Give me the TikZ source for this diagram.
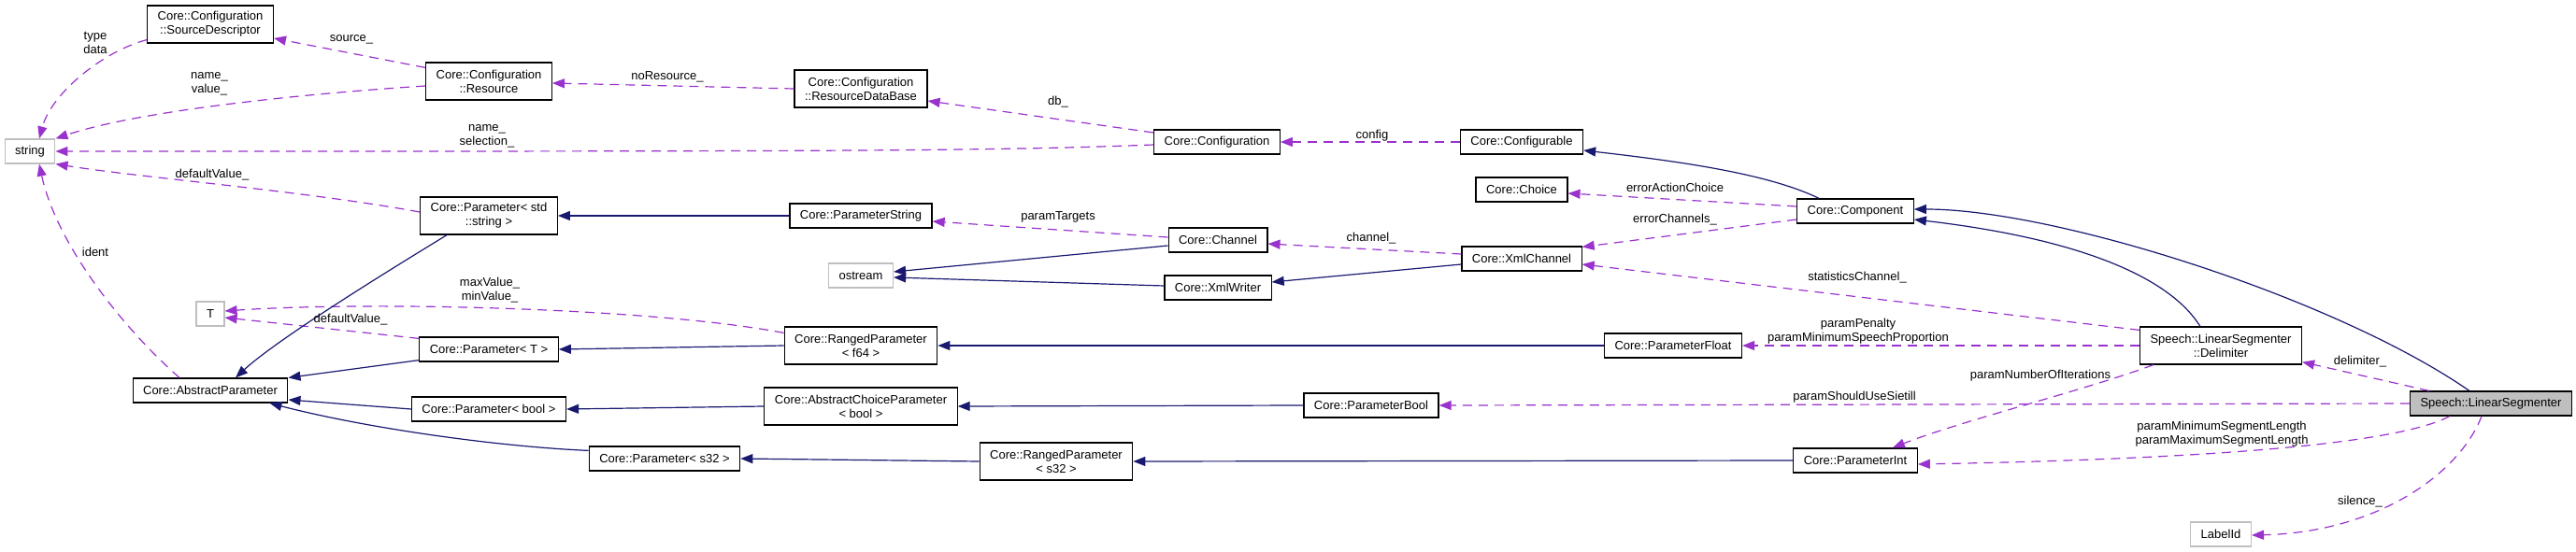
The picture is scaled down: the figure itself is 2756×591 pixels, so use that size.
\documentclass[tikz,border=0pt]{standalone}
\usepackage{fontspec}
\setmainfont{Liberation Sans}
\usetikzlibrary{calc, positioning}
\usetikzlibrary{arrows.meta}

\begin{document}
\begin{tikzpicture}[x=1pt,y=-1pt,
  font=\fontsize{13}{15}\selectfont,
  cls/.style={draw=black,line width=1.2pt,fill=white,inner xsep=11pt,inner ysep=3pt,minimum height=26pt,align=center},
  cls2/.style={cls,minimum height=40pt},
  ext/.style={cls,draw=extgray},
  inherit/.style={draw=inheritblue,line width=1.2pt,-{Triangle[length=13pt,width=10pt]}},
  uses/.style={draw=usepurple,line width=1.2pt,dash pattern=on 10pt off 7pt,-{Triangle[length=13pt,width=10pt]}},
  lbl/.style={align=center,inner sep=0pt}]
\definecolor{inheritblue}{HTML}{191970}
\definecolor{usepurple}{HTML}{9A32CD}
\definecolor{extgray}{HTML}{BFBFBF}
\useasboundingbox (0,0) rectangle (2756,591);

% classes
\node[ext] (string) at (32,162) {string};
\node[cls2] (srcdesc) at (225,26) {Core::Configuration\\::SourceDescriptor};
\node[cls2] (resource) at (523,87) {Core::Configuration\\::Resource};
\node[cls2] (pstring) at (523,231) {Core::Parameter< std\\::string >};
\node[ext] (tparam) at (225,336) {T};
\node[cls] (ptmpl) at (523,374) {Core::Parameter< T >};
\node[cls] (abspar) at (225,418) {Core::AbstractParameter};
\node[cls] (pbool) at (523,438) {Core::Parameter< bool >};
\node[cls] (ps32) at (711,491) {Core::Parameter< s32 >};
\node[cls2] (rdb) at (921,95) {Core::Configuration\\::ResourceDataBase};
\node[cls] (parstr) at (921,231) {Core::ParameterString};
\node[ext] (ostream) at (921,295) {ostream};
\node[cls2] (rpf64) at (921,370) {Core::RangedParameter\\< f64 >};
\node[cls2] (acpbool) at (921,435) {Core::AbstractChoiceParameter\\< bool >};
\node[cls2] (rps32) at (1130,494) {Core::RangedParameter\\< s32 >};
\node[cls] (config) at (1302,152) {Core::Configuration};
\node[cls] (channel) at (1303,257) {Core::Channel};
\node[cls] (xmlwriter) at (1303,308) {Core::XmlWriter};
\node[cls] (parbool) at (1467,434) {Core::ParameterBool};
\node[cls] (configurable) at (1628,152) {Core::Configurable};
\node[cls] (choice) at (1628,203) {Core::Choice};
\node[cls] (xmlchannel) at (1628,277) {Core::XmlChannel};
\node[cls] (parfloat) at (1790,370) {Core::ParameterFloat};
\node[cls] (component) at (1985,226) {Core::Component};
\node[cls] (parint) at (1985,493) {Core::ParameterInt};
\node[cls2] (delim) at (2376,370) {Speech::LinearSegmenter\\::Delimiter};
\node[ext] (labelid) at (2376,572) {LabelId};
\node[cls,fill=extgray] (linseg) at (2665,432) {Speech::LinearSegmenter};

% members
\draw[uses] ($(srcdesc.south west)+(0,-4)$) .. controls (110,55) and (55,100) .. ($(string.north)+(10,0)$);
\draw[uses] ($(resource.north west)+(0,6)$) -- ($(srcdesc.east)+(0,15)$);
\draw[uses] ($(resource.west)+(0,5)$) .. controls (330,100) and (150,118) .. (string.north east);
\draw[uses] (rdb.west) -- ($(resource.east)+(0,2)$);
\draw[uses] ($(config.west)+(0,-10)$) -- ($(rdb.east)+(0,13)$);
\draw[uses] ($(config.west)+(0,3)$) .. controls (1050,162) and (900,162) .. (string.east);
\draw[uses] (configurable.west) -- (config.east);
\draw[uses] ($(component.west)+(0,-5)$) -- ($(choice.east)+(0,4)$);
\draw[uses] ($(component.west)+(0,9)$) -- ($(xmlchannel.north east)+(0,1)$);
\draw[uses] ($(xmlchannel.west)+(0,-5)$) -- ($(channel.east)+(0,4)$);
\draw[uses] ($(channel.west)+(0,-3)$) -- ($(parstr.east)+(0,6)$);
\draw[uses] ($(delim.north west)+(0,4)$) -- ($(xmlchannel.east)+(0,6)$);
\draw[uses] (delim.west) -- (parfloat.east);
\draw[uses] ($(linseg.north west)+(21,0)$) -- ($(delim.south east)+(0,-3)$);
\draw[uses] (linseg.west) -- (parbool.east);
\draw[uses] ($(delim.south west)+(15,0)$) .. controls (2230,418) and (2100,450) .. ($(parint.north east)+(-27,0)$);
\draw[uses] ($(linseg.south west)+(43,0)$) .. controls (2560,478) and (2330,492) .. ($(parint.east)+(0,4)$);
\draw[uses] ($(linseg.south)+(-10,0)$) .. controls (2630,510) and (2540,570) .. ($(labelid.east)+(0,1)$);
\draw[uses] ($(pstring.west)+(0,-4)$) .. controls (330,205) and (150,190) .. (string.south east);
\draw[uses] ($(abspar.north)+(-33,0)$) .. controls (130,350) and (60,260) .. ($(string.south)+(10,0)$);
\draw[uses] ($(ptmpl.north west)+(0,2)$) -- ($(tparam.east)+(0,4)$);
\draw[uses] ($(rpf64.north west)+(0,7)$) .. controls (700,330) and (400,322) .. ($(tparam.east)+(0,-3)$);

% base classes
\draw[inherit] ($(pstring.south west)+(29,0)$) .. controls (440,275) and (300,360) .. ($(abspar.north)+(27,0)$);
\draw[inherit] ($(ptmpl.south west)+(0,-2)$) -- (abspar.north east);
\draw[inherit] (pbool.west) -- ($(abspar.east)+(0,10)$);
\draw[inherit] ($(ps32.north west)+(0,5)$) .. controls (530,478) and (390,458) .. ($(abspar.south east)+(-20,0)$);
\draw[inherit] (parstr.west) -- (pstring.east);
\draw[inherit] ($(channel.west)+(0,6)$) -- ($(ostream.east)+(0,-4)$);
\draw[inherit] ($(xmlwriter.west)+(0,-2)$) -- ($(ostream.east)+(0,2)$);
\draw[inherit] ($(xmlchannel.west)+(0,6)$) -- ($(xmlwriter.east)+(0,-6)$);
\draw[inherit] (rpf64.west) -- (ptmpl.east);
\draw[inherit] (parfloat.west) -- (rpf64.east);
\draw[inherit] (acpbool.west) -- (pbool.east);
\draw[inherit] (parbool.west) -- (acpbool.east);
\draw[inherit] (rps32.west) -- (ps32.east);
\draw[inherit] (parint.west) -- (rps32.east);
\draw[inherit] ($(component.north west)+(24,0)$) .. controls (1890,185) and (1790,172) .. ($(configurable.east)+(0,9)$);
\draw[inherit] ($(delim.north west)+(65,0)$) .. controls (2320,295) and (2220,255) .. ($(component.east)+(0,9)$);
\draw[inherit] ($(linseg.north west)+(64,0)$) .. controls (2500,320) and (2200,224) .. ($(component.east)+(0,-2)$);

% member names
\node[lbl] (l-typedata) at (102,46) {type\\data};
\node[lbl] (l-source) at (376,42) {source\_};
\node[lbl] (l-namevalue) at (224,90) {name\_\\value\_};
\node[lbl] (l-nores) at (714,82) {noResource\_};
\node[lbl] (l-db) at (1132,109) {db\_};
\node[lbl] (l-namesel) at (521,146) {name\_\\selection\_};
\node[lbl] (l-config) at (1468,145) {config};
\node[lbl] (l-erract) at (1792,201) {errorActionChoice};
\node[lbl] (l-errchan) at (1792,235) {errorChannels\_};
\node[lbl] (l-channel) at (1467,255) {channel\_};
\node[lbl] (l-targets) at (1132,232) {paramTargets};
\node[lbl] (l-stats) at (1987,297) {statisticsChannel\_};
\node[lbl] (l-penalty) at (1988,355) {paramPenalty\\paramMinimumSpeechProportion};
\node[lbl] (l-delim) at (2525,387) {delimiter\_};
\node[lbl] (l-sietill) at (1984,425) {paramShouldUseSietill};
\node[lbl] (l-iter) at (2183,402) {paramNumberOfIterations};
\node[lbl] (l-seglen) at (2377,465) {paramMinimumSegmentLength\\paramMaximumSegmentLength};
\node[lbl] (l-silence) at (2525,537) {silence\_};
\node[lbl] (l-defstr) at (227,187) {defaultValue\_};
\node[lbl] (l-ident) at (102,270) {ident};
\node[lbl] (l-deft) at (375,342) {defaultValue\_};
\node[lbl] (l-minmax) at (524,311) {maxValue\_\\minValue\_};
\end{tikzpicture}
\end{document}
